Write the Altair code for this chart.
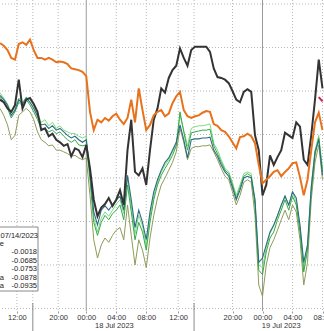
import altair as alt
import pandas as pd

# 30-minute bar index (x) shared by all series
bars = list(range(87))

orange = [0.55, 0.52, 0.47, 0.38, 0.36, 0.54, 0.56, 0.53, 0.59, 0.47,
          0.38, 0.38, 0.36, 0.38, 0.36, 0.33, 0.34, 0.33, 0.31, 0.26,
          0.25, 0.24, 0.22, 0.17, -0.24, -0.45, -0.33, -0.36, -0.31, -0.34,
          -0.29, -0.26, -0.33, -0.38, -0.31, -0.10, -0.36, 0.03, -0.22, -0.45,
          -0.39, -0.28, -0.24, -0.22, -0.29, -0.26, -0.14, -0.06, -0.01, -0.22,
          -0.29, -0.31, -0.29, -0.28, -0.25, -0.23, -0.24, -0.38, -0.40, -0.45,
          -0.47, -0.52, -0.59, -0.66, -0.53, -0.52, -0.49, -0.52, -0.60, -0.85,
          -1.06, -1.02, -0.98, -0.93, -0.91, -0.98, -0.93, -0.89, -0.83, -0.82,
          -0.99, -1.20, -1.02, -0.68, -0.36, -0.25, -0.45]

black = [-0.10, -0.13, -0.20, -0.24, -0.16, 0.13, -0.20, -0.10, -0.08, -0.15,
         -0.24, -0.45, -0.43, -0.52, -0.49, -0.56, -0.59, -0.63, -0.61, -0.75,
         -0.66, -0.68, -0.76, -0.62, -0.89, -1.25, -1.44, -1.34, -1.30, -1.23,
         -1.32, -1.25, -1.14, -1.31, -0.68, -0.33, -0.93, -0.97, -0.89, -1.08,
         -0.68, -0.33, -0.20, 0.03, -0.02, 0.15, 0.24, 0.29, 0.49, 0.38,
         0.29, 0.47, 0.51, 0.51, 0.51, 0.51, 0.45, 0.26, 0.16, 0.15,
         0.13, 0.09, 0.00, -0.10, -0.13, -0.01, 0.02, -0.01, -0.51, -0.68,
         -1.20, -1.08, -0.74, -0.85, -0.76, -0.68, -0.48, -0.51, -0.54, -0.36,
         -0.41, -0.79, -0.85, -0.51, -0.10, 0.36, 0.03]

teal = [-0.05, -0.10, -0.16, -0.28, -0.22, -0.10, -0.15, -0.08, -0.13, -0.20,
        -0.29, -0.39, -0.38, -0.43, -0.40, -0.45, -0.43, -0.47, -0.51, -0.54,
        -0.52, -0.56, -0.59, -0.56, -0.93, -1.39, -1.54, -1.37, -1.32, -1.37,
        -1.31, -1.25, -1.21, -1.37, -0.97, -1.25, -1.57, -1.37, -1.51, -1.71,
        -1.39, -1.16, -1.02, -0.91, -0.82, -0.77, -0.68, -0.59, -0.39, -0.56,
        -0.77, -0.56, -0.55, -0.55, -0.54, -0.54, -0.53, -0.68, -0.75, -0.85,
        -0.93, -0.98, -1.11, -1.25, -1.14, -1.00, -0.98, -1.00, -1.25, -1.97,
        -1.92, -1.77, -1.62, -1.54, -1.43, -1.31, -1.21, -1.31, -1.16, -1.23,
        -1.54, -1.97, -1.77, -1.11, -0.70, -0.56, -0.97]

green = [-0.07, -0.13, -0.20, -0.31, -0.24, -0.13, -0.17, -0.10, -0.16, -0.24,
         -0.33, -0.43, -0.43, -0.47, -0.45, -0.49, -0.47, -0.52, -0.56, -0.59,
         -0.56, -0.62, -0.63, -0.62, -1.02, -1.51, -1.66, -1.51, -1.43, -1.48,
         -1.41, -1.37, -1.31, -1.48, -1.08, -1.39, -1.71, -1.51, -1.62, -1.83,
         -1.51, -1.25, -1.08, -0.97, -0.89, -0.82, -0.74, -0.63, -0.24, -0.47,
         -0.68, -0.48, -0.47, -0.46, -0.45, -0.45, -0.44, -0.63, -0.72, -0.82,
         -0.91, -0.95, -1.08, -1.23, -1.11, -0.98, -0.95, -0.98, -1.31, -2.06,
         -2.11, -1.85, -1.69, -1.62, -1.48, -1.37, -1.25, -1.37, -1.21, -1.31,
         -1.62, -2.08, -1.83, -1.16, -0.74, -0.54, -0.93]

light_green = [-0.02, -0.08, -0.15, -0.24, -0.20, -0.08, -0.13, -0.07, -0.10, -0.17,
               -0.26, -0.36, -0.33, -0.40, -0.36, -0.43, -0.40, -0.45, -0.47, -0.49,
               -0.49, -0.52, -0.54, -0.52, -0.98, -1.46, -1.62, -1.46, -1.39, -1.44,
               -1.37, -1.30, -1.25, -1.41, -1.00, -1.32, -1.64, -1.43, -1.55, -1.78,
               -1.44, -1.21, -1.05, -0.93, -0.85, -0.79, -0.70, -0.62, -0.28, -0.45,
               -0.63, -0.43, -0.41, -0.40, -0.40, -0.39, -0.38, -0.60, -0.68, -0.79,
               -0.89, -0.93, -1.05, -1.20, -1.08, -0.95, -0.93, -0.95, -1.25, -2.00,
               -2.03, -1.80, -1.64, -1.55, -1.44, -1.32, -1.20, -1.32, -1.16, -1.28,
               -1.57, -2.03, -1.78, -1.09, -0.68, -0.51, -0.89]

olive = [-0.20, -0.28, -0.39, -0.56, -0.51, -0.28, -0.24, -0.20, -0.24, -0.33,
         -0.47, -0.56, -0.59, -0.63, -0.62, -0.68, -0.68, -0.70, -0.72, -0.75,
         -0.74, -0.77, -0.79, -0.77, -1.20, -1.71, -1.92, -1.77, -1.69, -1.74,
         -1.66, -1.60, -1.57, -1.71, -1.31, -1.66, -2.00, -1.71, -1.83, -2.03,
         -1.69, -1.43, -1.23, -1.08, -1.00, -0.91, -0.82, -0.70, -0.43, -0.59,
         -0.79, -0.66, -0.64, -0.64, -0.63, -0.63, -0.62, -0.70, -0.79, -0.89,
         -0.98, -1.02, -1.16, -1.31, -1.20, -1.05, -1.02, -1.05, -1.43, -2.23,
         -2.36, -2.00, -1.80, -1.71, -1.60, -1.48, -1.37, -1.48, -1.31, -1.39,
         -1.71, -2.23, -1.97, -1.25, -0.82, -0.62, -1.02]

red_bars = [85, 86]
red = [-0.07, -0.12]

tick_vals = [4.5, 15.5, 23, 31, 39, 47.5, 62, 70, 78, 86]
tick_labels = ["12:00", "20:00", "00:00", "04:00", "08:00", "12:00",
               "20:00", "00:00", "04:00", "08:00"]
midnights = [23, 70]
separators = [8.75, 51.75]
date_pos = [30.5, 75]
date_labels = ["18 Jul 2023", "19 Jul 2023"]
grid_levels = [1.0, 0.5, 0.0, -0.5, -1.0, -1.5, -2.0, -2.5]

legend_title = "07/14/2023"
legend_values = ["-0.0018", "-0.0685", "-0.0753", "-0.0878", "-0.0935"]

FONT = "Liberation Sans"
xscale = alt.Scale(domain=[0, 86.4], nice=False, zero=False)
yscale = alt.Scale(domain=[-2.529, 1.046], nice=False, zero=False)

label_expr = " : ".join(
    f"datum.value == {v} ? '{l}'" for v, l in zip(tick_vals, tick_labels)
) + " : ''"

xaxis = alt.Axis(values=tick_vals, labelExpr=label_expr, grid=False, domain=False,
                 tickColor="#9a9a9a", tickSize=2, labelFont=FONT, labelFontSize=7.5,
                 labelColor="#333333", labelPadding=0, title=None, labelOverlap=False,
                 labelFlush=False, labelBound=False)

def X(field="t:Q"):
    return alt.X(field, scale=xscale, axis=xaxis)

def Y(field="v:Q"):
    return alt.Y(field, scale=yscale, axis=None)

layers = []

hgrid = alt.Chart(pd.DataFrame({"v": grid_levels})).mark_rule(
    color="#b8b8b8", strokeDash=[1, 2], strokeWidth=1
).encode(y=Y())
layers.append(hgrid)

dotted_x = [v for v in tick_vals if v not in midnights] + separators
vgrid = alt.Chart(pd.DataFrame({"t": dotted_x})).mark_rule(
    color="#b8b8b8", strokeDash=[1, 2], strokeWidth=1
).encode(x=X())
layers.append(vgrid)

mid = alt.Chart(pd.DataFrame({"t": midnights})).mark_rule(
    color="#9a9a9a", strokeWidth=1
).encode(x=X())
layers.append(mid)

sep = alt.Chart(pd.DataFrame({"t": separators})).mark_rule(
    color="#8a8a8a", strokeWidth=1
).encode(x=X(), y=alt.value(303), y2=alt.value(331))
layers.append(sep)

series = [
    ("olive", olive, "#8d9c58", 1.0),
    ("light_green", light_green, "#7fdc82", 1.0),
    ("green", green, "#35a84a", 1.0),
    ("teal", teal, "#2c6b82", 1.1),
    ("black", black, "#333333", 2.0),
    ("orange", orange, "#e8721c", 2.0),
]
for name, vals, col, w in series:
    df = pd.DataFrame({"t": bars, "v": vals})
    layers.append(
        alt.Chart(df).mark_line(color=col, strokeWidth=w).encode(x=X(), y=Y())
    )

layers.append(
    alt.Chart(pd.DataFrame({"t": red_bars, "v": red})).mark_line(
        color="#d8204a", strokeWidth=2
    ).encode(x=X(), y=Y())
)

dates = alt.Chart(pd.DataFrame({"t": date_pos, "label": date_labels})).mark_text(
    font=FONT, fontSize=7.5, color="#333333", baseline="middle"
).encode(x=X(), y=alt.value(325.5), text="label:N")
layers.append(dates)

# legend box (partially cropped at the left edge)
one = pd.DataFrame({"a": [0]})
box = alt.Chart(one).mark_rect(
    fill="white", stroke="#8a8a8a", strokeWidth=1
).encode(x=alt.value(-6), x2=alt.value(38), y=alt.value(227), y2=alt.value(291))
layers.append(box)

def txt(s, x, y, align="right"):
    return alt.Chart(one).mark_text(font=FONT, fontSize=7.5, color="#222222",
                                    align=align, baseline="middle",
                                    text=s).encode(x=alt.value(x), y=alt.value(y))

layers.append(txt(legend_title, 0.5, 236, align="left"))
layers.append(txt("e", 4, 244))
row_y = [252, 260.5, 269, 277.5, 286]
for yy, s in zip(row_y, legend_values):
    layers.append(txt(s, 37, yy))
for yy in row_y[3:]:
    layers.append(txt("a", 4, yy))

chart = alt.layer(*layers).properties(
    width=324, height=311,
    autosize=alt.AutoSizeParams(type="none"),
    padding={"left": 0, "top": 0, "right": 0, "bottom": 20},
    background="white",
).configure_view(stroke=None)

chart.save("out.html", embed_options={"renderer": "svg", "actions": False})
